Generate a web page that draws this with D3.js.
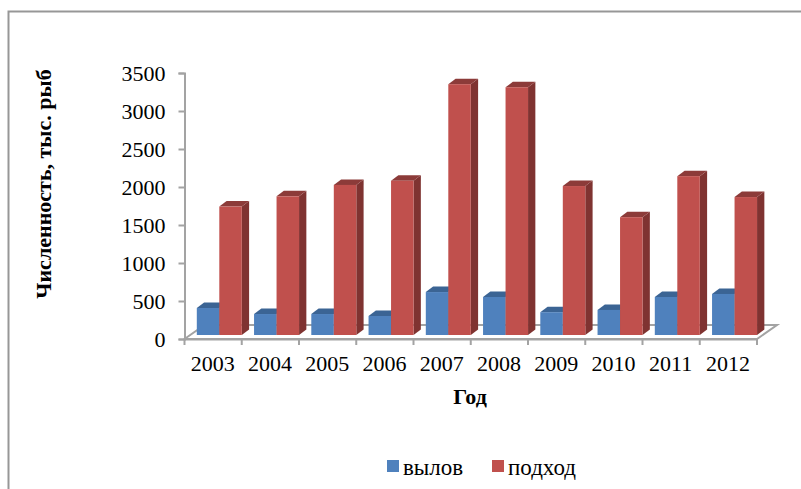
<!DOCTYPE html>
<html>
<head>
<meta charset="utf-8">
<script src="https://d3js.org/d3.v7.min.js"></script>
<style>
html,body{margin:0;padding:0;background:#fff;}
svg{display:block;}
text{font-family:"Liberation Serif",serif;fill:#000;}
</style>
</head>
<body>
<svg id="chart" width="801" height="489"></svg>
<script>
const years = ["2003","2004","2005","2006","2007","2008","2009","2010","2011","2012"];
const catch_ = [355,276,276,250,565,500,300,330,500,540];
const run = [1690,1825,1975,2030,3300,3260,1960,1550,2090,1815];
const yTicks = [0,500,1000,1500,2000,2500,3000,3500];
const seriesNames = ["вылов","подход"];

const palette = {
  "вылов": {front:"#4f81bd", top:"#3b6494", side:"#2f4f78"},
  "подход": {front:"#c0504d", top:"#8c3b39", side:"#7f3331"}
};

const svg = d3.select("#chart");
const axisGrey = "#a3a3a3";

// outer frame: only the top and left edges fall inside the page
svg.append("path").attr("d","M8.5,489V11.5H801").attr("fill","none")
  .attr("stroke","#979797").attr("stroke-width",2);

const x = d3.scaleBand().domain(years).range([184.5,757]);
const y = d3.scaleLinear().domain([0,3500]).range([339,73]);
// columns stand slightly inside the floor, so their baseline sits above the front axis
const yBar = d3.scaleLinear().domain([0,3500]).range([335,69]);
const inner = d3.scaleBand().domain(seriesNames).range([12.3,57.3]);
const depth = {x:20, y:-14};
const barDepth = {x:7.3, y:-5.5};

// floor parallelogram
const floor = svg.append("g");
const floorPath = d3.path();
floorPath.moveTo(x.range()[0], y(0));
floorPath.lineTo(x.range()[0]+depth.x, y(0)+depth.y);
floorPath.lineTo(x.range()[1]+depth.x, y(0)+depth.y);
floorPath.lineTo(x.range()[1], y(0));
floorPath.closePath();
floor.append("path").attr("d",floorPath.toString()).attr("fill","#fff")
  .attr("stroke",axisGrey).attr("stroke-width",2);

// value axis
const yAxis = svg.append("g").attr("transform",`translate(${x.range()[0]},0)`)
  .call(d3.axisLeft(y).tickValues(yTicks).tickSize(6).tickPadding(13).tickFormat(d3.format("d")));
yAxis.selectAll("path,line").attr("stroke",axisGrey).attr("stroke-width",2);
yAxis.selectAll("text").attr("font-size",22).attr("font-family","Liberation Serif");

// category axis, ticks fall on the band edges
const xAxis = svg.append("g").attr("transform",`translate(0,${y(0)})`)
  .call(d3.axisBottom(x).tickSize(0).tickPadding(16));
xAxis.select("path").attr("stroke",axisGrey).attr("stroke-width",2);
xAxis.selectAll("text").attr("font-size",22).attr("font-family","Liberation Serif")
  .attr("dx",-0.5);
svg.append("g").selectAll("line")
  .data(years.map(d=>x(d)).concat([x.range()[1]]))
  .join("line").attr("x1",d=>d).attr("x2",d=>d)
  .attr("y1",y(0)).attr("y2",y(0)+6).attr("stroke",axisGrey).attr("stroke-width",2);

// 3D columns: blue first in each pair so the red one overlaps it
const bars = svg.append("g");
function column(year, name, value){
  const c = palette[name];
  const x0 = x(year)+inner(name), w = inner.bandwidth();
  const base = yBar(0), top = yBar(value);
  const dx = barDepth.x, dy = barDepth.y;
  const g = bars.append("g");
  g.append("path")
    .attr("d",`M${x0+w},${top}L${x0+w+dx},${top+dy}V${base+dy}L${x0+w},${base}Z`)
    .attr("fill",c.side);
  g.append("path")
    .attr("d",`M${x0},${top}L${x0+dx},${top+dy}H${x0+w+dx}L${x0+w},${top}Z`)
    .attr("fill",c.top);
  g.append("rect").attr("x",x0).attr("y",top).attr("width",w).attr("height",base-top)
    .attr("fill",c.front);
}
years.forEach((yr,i)=>{
  column(yr,seriesNames[0],catch_[i]);
  column(yr,seriesNames[1],run[i]);
});

// axis titles
svg.append("text").attr("transform","translate(51,184) rotate(-90)")
  .attr("text-anchor","middle").attr("font-size",22).attr("font-weight","bold")
  .text("Численность, тыс. рыб");
svg.append("text").attr("x",470).attr("y",404)
  .attr("text-anchor","middle").attr("font-size",22).attr("font-weight","bold")
  .text("Год");

// legend
const legendX = [387,492];
const legend = svg.append("g");
seriesNames.forEach((name,i)=>{
  legend.append("rect").attr("x",legendX[i]).attr("y",460).attr("width",12).attr("height",12)
    .attr("fill",palette[name].front);
  legend.append("text").attr("x",legendX[i]+16).attr("y",475)
    .attr("font-size",23).text(name);
});
</script>
</body>
</html>
